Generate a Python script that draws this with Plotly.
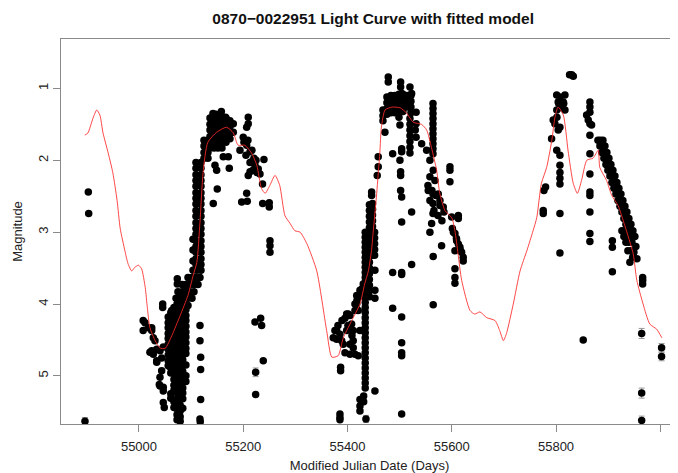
import plotly.graph_objects as go

# ---------------- fitted model (red curve) ----------------
model_mjd = [54896, 54902, 54912, 54919, 54925, 54931, 54941, 54950, 54958, 54964,
             54973, 54979, 54986, 54992, 54999, 55005, 55012, 55016, 55021, 55031,
             55040, 55050, 55063, 55079, 55094, 55104, 55111, 55117, 55123, 55132,
             55149, 55168, 55181, 55190, 55203, 55216, 55226, 55235, 55242, 55251,
             55261, 55270, 55280, 55290, 55299, 55309, 55322, 55341, 55360, 55370,
             55382, 55392, 55411, 55424, 55433, 55440, 55446, 55449, 55456, 55462,
             55465, 55472, 55485, 55501, 55513, 55526, 55542, 55552, 55561, 55571,
             55577, 55587, 55600, 55606, 55612, 55619, 55635, 55644, 55654, 55667,
             55683, 55692, 55699, 55705, 55718, 55731, 55744, 55756, 55763, 55772,
             55782, 55792, 55798, 55804, 55814, 55823, 55833, 55841, 55849, 55859,
             55871, 55881, 55884, 55897, 55907, 55919, 55932, 55948, 55955, 55967,
             55980, 55993, 56003]
model_mag = [1.65, 1.62, 1.41, 1.30, 1.37, 1.62, 1.90, 2.18, 2.56, 2.95,
             3.26, 3.44, 3.54, 3.49, 3.46, 3.51, 3.77, 4.05, 4.33, 4.51,
             4.61, 4.62, 4.44, 4.16, 3.88, 3.60, 3.42, 2.86, 2.17, 1.75,
             1.61, 1.54, 1.62, 1.79, 1.79, 1.90, 2.07, 2.39, 2.46, 2.35,
             2.21, 2.35, 2.77, 2.88, 2.98, 3.00, 3.16, 3.54, 4.37, 4.74,
             4.72, 4.47, 4.19, 4.00, 3.72, 3.54, 3.26, 3.02, 2.46, 1.90,
             1.54, 1.30, 1.26, 1.27, 1.34, 1.47, 1.50, 1.58, 1.82, 2.14,
             2.46, 2.70, 2.80, 2.98, 3.30, 3.67, 4.09, 4.14, 4.11, 4.19,
             4.23, 4.37, 4.51, 4.41, 4.00, 3.54, 3.26, 2.98, 2.80, 2.32,
             2.10, 1.72, 1.40, 1.26, 1.37, 1.86, 2.32, 2.46, 2.28, 2.00,
             1.97, 1.86, 2.10, 2.28, 2.49, 2.63, 2.91, 3.30, 3.67, 4.00,
             4.28, 4.35, 4.47]

# ---------------- observations (MJD, magnitude) ----------------
early_obs = [(54902.8, 2.44), (54903.5, 2.74)]

season1_scatter = [
    (55008, 4.23), (55008, 4.37), (55011.5, 4.26), (55018, 4.33), (55024.4, 4.33),
    (55024.4, 4.37), (55027.4, 4.47), (55030.7, 4.51), (55021, 4.67), (55024.4, 4.65),
    (55027.4, 4.70), (55034, 4.63), (55034, 4.81), (55040.3, 4.65), (55043.5, 4.75),
    (55046.6, 4.60), (55034, 4.79), (55040.3, 5.02), (55040.3, 5.14), (55039, 5.12),
    (55043.5, 4.93), (55046.6, 5.16), (55046.6, 5.21), (55046.6, 5.37), (55048.5, 5.44),
    (55045.5, 4.00), (55045.5, 4.05), (55062.7, 4.09), (55073.5, 3.65), (55073.5, 3.72),
    (55075.4, 3.95),
    (55117, 4.30), (55117, 4.51), (55118.3, 4.74), (55118.3, 4.91), (55118.3, 5.33),
    (55117, 5.60), (55117.5, 5.64),
    (55222.5, 4.25), (55233.4, 4.20), (55235.3, 4.30), (55238.4, 4.79), (55223.8, 5.26),
]

season1_dense = [
    (55056, 4.18), (55056, 4.26), (55056, 4.33), (55056, 4.41), (55056, 4.48),
    (55056, 4.56), (55056, 4.63), (55056, 4.71), (55056, 4.79), (55056, 4.86),
    (55061, 4.12), (55061, 4.20), (55061, 4.27), (55061, 4.35), (55061, 4.43),
    (55061, 4.50), (55061, 4.58), (55061, 4.66), (55061, 4.73), (55061, 4.81),
    (55061, 4.89), (55061, 4.96), (55061, 5.25), (55061, 5.31),
    (55067, 4.05), (55067, 4.13), (55067, 4.21), (55067, 4.28), (55067, 4.36),
    (55067, 4.44), (55067, 4.51), (55067, 4.59), (55067, 4.67), (55067, 4.74),
    (55067, 4.82), (55067, 4.90), (55067, 4.97), (55067, 5.05), (55067, 5.13),
    (55067, 5.20), (55067, 5.36), (55067, 5.44),
    (55073, 4.00), (55073, 4.08), (55073, 4.16), (55073, 4.23), (55073, 4.31),
    (55073, 4.39), (55073, 4.46), (55073, 4.54), (55073, 4.62), (55073, 4.69),
    (55073, 4.77), (55073, 4.85), (55073, 4.92), (55073, 5.00), (55073, 5.08),
    (55073, 5.15), (55073, 5.23), (55073, 5.31), (55073, 5.38), (55073, 5.46),
    (55073, 5.54), (55073, 5.61),
    (55079, 3.95), (55079, 4.03), (55079, 4.11), (55079, 4.18), (55079, 4.26),
    (55079, 4.34), (55079, 4.41), (55079, 4.49), (55079, 4.57), (55079, 4.64),
    (55079, 4.72), (55079, 4.80), (55079, 4.87), (55079, 4.95), (55079, 5.03),
    (55079, 5.10), (55079, 5.18), (55079, 5.26), (55079, 5.33), (55079, 5.41),
    (55079, 5.49), (55079, 5.57), (55079, 5.63),
    (55084, 3.86), (55084, 3.94), (55084, 4.02), (55084, 4.09), (55084, 4.17),
    (55084, 4.25), (55084, 4.32), (55084, 4.40), (55084, 4.48), (55084, 4.55),
    (55084, 4.63), (55084, 4.71), (55084, 4.78), (55084, 4.86), (55084, 4.94),
    (55084, 5.01), (55084, 5.09), (55084, 5.17), (55084, 5.24), (55084, 5.32),
    (55084, 5.45),
    (55090, 3.78), (55090, 3.85), (55090, 3.93), (55090, 4.00), (55090, 4.08),
    (55090, 4.16), (55090, 4.23), (55090, 4.31), (55090, 4.39), (55090, 4.46),
    (55090, 4.54), (55090, 4.62), (55090, 4.69), (55090, 4.85), (55090, 5.00),
    (55090, 5.08),
    # rising diagonal
    (55103.6, 3.53), (55111.2, 3.53), (55118.9, 3.53),
    (55094, 3.63), (55101.7, 3.63), (55109.3, 3.63), (55117, 3.63),
    (55082.5, 3.73), (55090.1, 3.73), (55097.8, 3.73), (55105.5, 3.73), (55113.2, 3.73),
    (55074.8, 3.83), (55082.5, 3.83), (55090.1, 3.83), (55097.8, 3.83), (55105.5, 3.83),
    (55071, 3.92), (55078.6, 3.92), (55086.3, 3.92), (55094, 3.92), (55101.7, 3.92),
    (55086.3, 4.02), (55094, 4.02),
    # steep rise columns
    (55109.3, 2.03), (55109.3, 2.11), (55109.3, 2.20), (55109.3, 2.28), (55109.3, 2.36),
    (55109.3, 2.45), (55109.3, 2.53), (55109.3, 2.61), (55109.3, 2.70), (55109.3, 2.78),
    (55109.3, 2.87), (55109.3, 2.95), (55109.3, 3.03), (55109.3, 3.12), (55109.3, 3.20),
    (55109.3, 3.28), (55109.3, 3.37), (55109.3, 3.45),
    (55118.9, 2.03), (55118.9, 2.11), (55118.9, 2.20), (55118.9, 2.28), (55118.9, 2.36),
    (55118.9, 2.45), (55118.9, 2.53), (55118.9, 2.61), (55118.9, 2.70), (55118.9, 2.78),
    (55118.9, 2.87), (55118.9, 2.95), (55118.9, 3.03), (55118.9, 3.12), (55118.9, 3.20),
    (55118.9, 3.28), (55118.9, 3.37), (55118.9, 3.45),
    (55103.6, 3.10), (55103.6, 3.25), (55103.6, 3.40),
    (55124.7, 1.72), (55124.7, 1.80), (55124.7, 1.89), (55124.7, 1.97),
    (55132.3, 1.72), (55132.3, 1.80), (55132.3, 1.89), (55132.3, 1.97),
    # maximum plateau
    (55136.2, 1.41), (55136.2, 1.50), (55136.2, 1.58), (55136.2, 1.67), (55136.2, 1.75), (55136.2, 1.83),
    (55143.9, 1.41), (55143.9, 1.50), (55143.9, 1.58), (55143.9, 1.67), (55143.9, 1.75), (55143.9, 1.83),
    (55151.5, 1.41), (55151.5, 1.50), (55151.5, 1.58), (55151.5, 1.67), (55151.5, 1.75), (55151.5, 1.83),
    (55159.2, 1.41), (55159.2, 1.50), (55159.2, 1.58), (55159.2, 1.67), (55159.2, 1.75), (55159.2, 1.83),
    (55166.9, 1.41), (55166.9, 1.50), (55166.9, 1.58), (55166.9, 1.67), (55166.9, 1.75),
    (55174.5, 1.45), (55174.5, 1.53), (55174.5, 1.62), (55174.5, 1.70),
    (55141.9, 1.35), (55147.7, 1.36), (55158, 1.32), (55159, 1.39), (55166, 1.40),
]

season1_decline = [
    (55145.8, 2.07), (55149, 2.14), (55161.7, 1.95), (55171.3, 1.95), (55173.2, 2.11),
    (55150.2, 2.40), (55142.5, 2.60), (55209.6, 1.40), (55209.6, 1.49), (55206.6, 1.54),
    (55197, 2.58), (55206.6, 2.46), (55207.7, 2.57), (55237.3, 2.60), (55249.9, 2.59),
    (55249.9, 2.65), (55251.3, 3.12), (55251.3, 3.19), (55251.3, 3.28), (55239.7, 1.99),
    (55180.9, 1.61), (55180.9, 1.49), (55159.2, 1.68),
    (55200, 1.68), (55206.6, 1.79), (55213, 1.88), (55216.2, 2.02), (55222.5, 2.07),
    (55228.8, 2.12), (55232.1, 2.19), (55209.6, 2.21), (55213, 2.16), (55201.4, 1.75),
    (55209, 1.72), (55216.7, 1.86), (55220.5, 1.97), (55224.4, 2.00), (55205.2, 1.93),
    (55213, 2.03), (55218.6, 2.14), (55226.3, 2.17), (55193.7, 1.86), (55237, 2.33),
]

season2_rise = [
    (55375.9, 4.37), (55372.7, 4.47), (55379.2, 4.49), (55385.5, 4.42), (55391.8, 4.56),
    (55398.4, 4.37), (55401.4, 4.14), (55407.9, 4.28), (55411, 4.51), (55411, 4.61),
    (55395.1, 4.68), (55404.7, 4.70), (55420.6, 4.72), (55414.3, 4.00), (55417.6, 3.88),
    (55423.9, 3.81), (55430.2, 3.72), (55420.6, 4.09), (55423.9, 4.37), (55379.2, 4.37),
    (55388.8, 4.51), (55398.4, 4.14), (55404.7, 4.56), (55411, 4.37), (55414.3, 4.70),
    (55420.6, 3.91), (55417.6, 4.00), (55381.7, 4.30), (55389.4, 4.23), (55395.1, 4.20),
    (55404.7, 4.16), (55414.3, 4.09), (55418.1, 3.95), (55423.9, 3.88), (55427.7, 3.79),
    (55431.6, 3.72), (55408.5, 4.44), (55400.8, 4.30),
    (55386.8, 4.88), (55386.8, 4.93), (55385.5, 5.53), (55385.5, 5.58), (55385.5, 5.61),
    (55423.9, 5.33), (55423.9, 5.42), (55423.9, 5.49), (55452.6, 5.21),
    (55452.6, 3.53), (55452.6, 3.81), (55452.6, 3.92),
    (55434, 3.00), (55434, 3.07), (55434, 3.14), (55434, 3.21), (55434, 3.28),
    (55434, 3.35), (55434, 3.42), (55434, 3.49), (55434, 3.56), (55434, 3.63),
    (55434, 3.70), (55434, 3.77), (55434, 3.84), (55434, 3.91), (55434, 3.98),
    (55434, 4.05), (55434, 4.12), (55434, 4.19), (55434, 4.26), (55434, 4.33),
    (55434, 4.40), (55434, 4.47), (55434, 4.54), (55434, 4.61), (55434, 4.68),
    (55434, 4.75), (55434, 4.82), (55434, 4.89), (55434, 4.96), (55434, 5.03),
    (55434, 5.10), (55434, 5.17), (55431, 5.28), (55431, 5.36),
    (55442, 2.62), (55442, 2.70), (55442, 2.78), (55442, 2.86), (55442, 2.94),
    (55442, 3.02), (55442, 3.10), (55442, 3.18), (55442, 3.26), (55442, 3.34),
    (55442, 3.42), (55442, 3.50), (55442, 3.58), (55442, 3.66), (55442, 3.74),
    (55442, 3.82), (55442, 3.90),
    (55448, 2.60), (55448, 2.68), (55448, 2.76), (55448, 2.84), (55448, 2.92),
    (55448, 3.00), (55448, 3.08), (55448, 3.16), (55448, 3.24), (55448, 3.32),
    (55452, 3.00), (55452, 3.08), (55452, 3.16), (55452, 3.24), (55452, 3.32),
    (55446.3, 2.44), (55446.3, 2.49),
]

season2_peak = [
    (55458.9, 1.95), (55458.9, 2.09), (55457, 2.21),
    (55468, 1.30), (55468, 1.38), (55468, 1.45),
    (55475.6, 1.12), (55475.6, 1.20), (55475.6, 1.28), (55475.6, 1.36),
    (55483.3, 1.10), (55483.3, 1.18), (55483.3, 1.26), (55483.3, 1.34),
    (55491, 1.10), (55491, 1.18), (55491, 1.26), (55491, 1.34),
    (55498.7, 1.08), (55498.7, 1.16), (55498.7, 1.24), (55498.7, 1.32), (55498.7, 1.40),
    (55506.3, 1.08), (55506.3, 1.16), (55506.3, 1.24), (55506.3, 1.32),
    (55514, 1.10), (55514, 1.18), (55514, 1.26),
    (55521.7, 1.10), (55521.7, 1.18), (55521.7, 1.26), (55521.7, 1.34),
    (55478.2, 0.84), (55478.2, 0.91), (55501.9, 0.91), (55501.9, 0.98), (55503.9, 1.07),
    (55519.8, 0.98), (55523, 1.07),
    (55471.8, 1.61), (55486.6, 1.91), (55500.6, 1.51), (55503.9, 1.84), (55503.9, 1.88),
    (55500.6, 2.00), (55501.9, 2.16), (55501.9, 2.21), (55501.9, 2.42), (55503.9, 2.51),
    (55503.9, 2.86), (55523, 2.72),
    (55519.8, 1.42), (55519.8, 1.50), (55519.8, 1.58), (55519.8, 1.66), (55519.8, 1.74),
    (55519.8, 1.82), (55519.8, 1.90),
    (55531.6, 1.33), (55531.6, 1.49), (55531.6, 1.68), (55530, 1.58),
    (55564, 1.21), (55564, 1.28), (55564, 1.35), (55564, 1.42), (55564, 1.49),
    (55564, 1.56), (55564, 1.63), (55564, 1.70), (55564, 1.77), (55564, 1.84),
    (55564, 1.91), (55564, 2.47), (55564, 2.60), (55564, 2.74),
    (55486.6, 3.56), (55503.9, 3.56), (55503.9, 3.59), (55486.6, 4.06), (55503.9, 4.18),
    (55503.9, 4.54), (55503.9, 4.68), (55503.9, 4.72), (55503.9, 5.53), (55523, 3.45),
]

season2_decline = [
    (55542.2, 1.77), (55551.8, 1.86), (55558.1, 2.00), (55564.4, 2.14), (55558.1, 2.23),
    (55567.7, 2.28), (55554.9, 2.42), (55574.1, 2.47), (55577.3, 2.56), (55583.7, 2.65),
    (55561.4, 2.88), (55558.1, 3.00), (55580.5, 3.19),
    (55554.3, 2.35), (55562, 2.42), (55569.6, 2.49), (55577.3, 2.63), (55558.1, 2.56),
    (55565.8, 2.70), (55573.5, 2.77), (55581.1, 2.84), (55585, 2.72),
    (55596.5, 2.09), (55596.5, 2.14), (55596.5, 2.30),
    (55599.8, 2.79), (55612.6, 2.77), (55612.6, 2.81), (55606.1, 3.02), (55609.4, 3.12),
    (55615.7, 3.21), (55618.9, 3.28), (55622, 3.35), (55606.1, 3.26), (55622, 3.40),
    (55606.1, 3.51), (55606.1, 3.63), (55606.1, 3.71), (55601.2, 2.95), (55603.2, 3.00),
    (55609, 3.09), (55612.8, 3.17), (55616.7, 3.26),
    (55564.4, 3.34), (55564.4, 4.01),
]

season3 = [
    (55830, 0.81), (55833.1, 0.83), (55826, 0.81),
    (55801.3, 1.09), (55807.5, 1.12), (55817.1, 1.09), (55805.2, 1.21), (55814.8, 1.21),
    (55801.5, 1.30), (55811, 1.27), (55817.1, 1.30), (55804.2, 1.19), (55813.8, 1.19),
    (55794.6, 1.44), (55797.9, 1.49), (55807.5, 1.54), (55804.2, 1.58), (55801.7, 1.40),
    (55791.5, 1.70), (55801.3, 1.86), (55807.5, 1.93), (55807.5, 2.07), (55807.5, 2.17),
    (55807.5, 2.25), (55807.5, 2.33), (55780, 2.37), (55776.8, 2.42), (55775.5, 2.70),
    (55775.5, 2.74), (55807.5, 2.74), (55807.5, 3.29),
    (55865, 1.19), (55865, 1.26), (55865, 1.33), (55858.7, 1.37), (55861.8, 1.44),
    (55865, 1.49), (55868.2, 1.51), (55865, 1.65), (55865, 1.91), (55865, 2.19),
    (55865, 2.44), (55865, 2.49), (55865, 2.72), (55865, 3.02), (55865, 3.13),
    (55852.2, 4.50),
    (55880.4, 1.72), (55885, 1.72), (55890, 1.72), (55884.2, 1.80), (55889, 1.80),
    (55893.8, 1.80), (55888, 1.89), (55892.8, 1.89), (55897.6, 1.89), (55891.9, 1.97),
    (55896.7, 1.97), (55901.5, 1.97), (55895.7, 2.06), (55900.5, 2.06), (55905.3, 2.06),
    (55899.5, 2.14), (55904.3, 2.14), (55909.1, 2.14), (55903.4, 2.22), (55908.2, 2.22),
    (55913, 2.22), (55907.2, 2.31), (55912, 2.31), (55916.8, 2.31), (55911, 2.39),
    (55915.8, 2.39), (55920.6, 2.39), (55914.9, 2.47), (55919.7, 2.47), (55924.5, 2.47),
    (55918.7, 2.56), (55923.5, 2.56), (55928.3, 2.56), (55922.6, 2.64), (55927.4, 2.64),
    (55932.2, 2.64), (55926.4, 2.72), (55931.2, 2.72), (55936, 2.72), (55930.2, 2.81),
    (55935, 2.81), (55939.8, 2.81), (55934.1, 2.89), (55938.9, 2.89), (55943.7, 2.89),
    (55926.4, 2.98), (55932.1, 2.98), (55937.9, 2.98), (55942.7, 2.98), (55947.5, 2.98),
    (55930.2, 3.06), (55935.9, 3.06), (55941.7, 3.06), (55946.5, 3.06), (55951.3, 3.06),
    (55934.1, 3.14), (55939.8, 3.14), (55945.6, 3.14), (55953.2, 3.20), (55937.9, 3.26),
    (55943.6, 3.26), (55949.4, 3.28), (55941.7, 3.42), (55947, 3.35), (55955.2, 3.37),
    (55966.2, 3.63), (55966.2, 3.67), (55966.2, 3.72),
    (55908.1, 3.12), (55908.1, 3.21), (55908.1, 3.55),
]

# points drawn with error bars: (MJD, magnitude, error)
errbar_obs = [
    (54896.4, 5.63, 0.05), (55223.8, 4.95, 0.06), (55435.4, 5.60, 0.05),
    (55964.3, 4.41, 0.07), (55964.3, 5.24, 0.07), (55964.3, 5.62, 0.06),
    (56002.5, 4.61, 0.06), (56002.5, 4.73, 0.06),
]

x_ticks = [55000, 55200, 55400, 55600, 55800, 56000]
y_ticks = [1, 2, 3, 4, 5]

obs = (early_obs + season1_scatter + season1_dense + season1_decline +
       season2_rise + season2_peak + season2_decline + season3)
obs_mjd = [p[0] for p in obs]
obs_mag = [p[1] for p in obs]

fig = go.Figure()
fig.add_trace(go.Scatter(
    x=obs_mjd, y=obs_mag, mode="markers",
    marker=dict(color="black", size=7.5, line=dict(width=0)),
    showlegend=False, hoverinfo="skip"))
fig.add_trace(go.Scatter(
    x=[p[0] for p in errbar_obs], y=[p[1] for p in errbar_obs], mode="markers",
    marker=dict(color="black", size=7.5, line=dict(width=0)),
    error_y=dict(type="data", array=[p[2] for p in errbar_obs],
                 color="#999999", thickness=1, width=3),
    showlegend=False, hoverinfo="skip"))
fig.add_trace(go.Scatter(
    x=model_mjd, y=model_mag, mode="lines",
    line=dict(color="rgba(255,40,40,0.85)", width=1, shape="spline", smoothing=0.6),
    showlegend=False, hoverinfo="skip"))

axis_font = dict(family="Liberation Sans, Arial, sans-serif", size=13, color="#222222")

# the page body adds an 8px offset, so the figure is 8px smaller on each side
fig.update_layout(
    width=670, height=465,
    margin=dict(l=53, r=0, t=31, b=49, autoexpand=False),
    paper_bgcolor="white", plot_bgcolor="white",
    title=dict(text="<b>0870\u22120022951 Light Curve with fitted model</b>",
               x=0.545, xanchor="center", y=0.978, yanchor="middle",
               font=dict(family="Liberation Sans, Arial, sans-serif", size=15.5, color="#111111")),
    xaxis=dict(range=[54850.4, 56034], tickvals=x_ticks, ticktext=[str(v) for v in x_ticks],
               showgrid=False, zeroline=False, showline=True, linecolor="#8a8a8a",
               linewidth=1, mirror=True, ticks="outside", ticklen=7, tickcolor="#8a8a8a",
               tickfont=axis_font, automargin=False, ticklabelstandoff=3,
               title=dict(text="Modified Julian Date (Days)", font=axis_font, standoff=10)),
    yaxis=dict(range=[5.67, 0.312], tickvals=y_ticks, ticktext=[str(v) for v in y_ticks],
               showgrid=False, zeroline=False, showline=True, linecolor="#8a8a8a",
               linewidth=1, ticks="outside", ticklen=7, tickcolor="#8a8a8a",
               tickangle=-90, tickfont=axis_font, automargin=False,
               title=dict(text="Magnitude", font=axis_font, standoff=10)),
)

fig.write_html("out.html")
